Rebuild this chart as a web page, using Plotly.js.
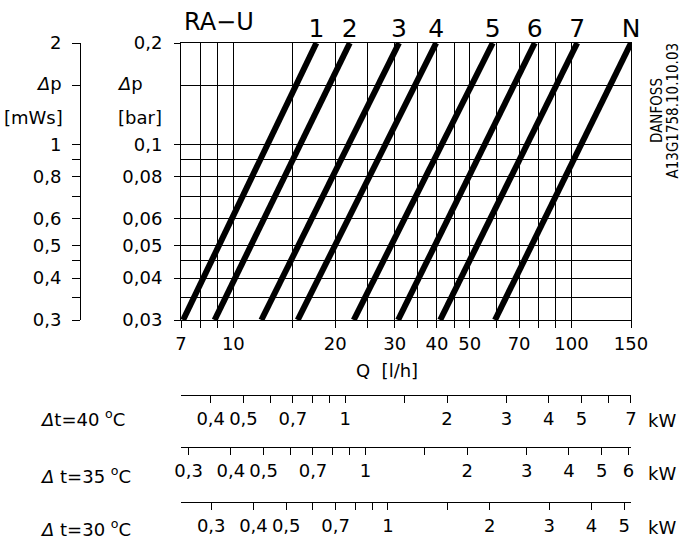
<!DOCTYPE html>
<html>
<head>
<meta charset="utf-8">
<script src="https://cdn.plot.ly/plotly-3.0.1.min.js"></script>
<style>
  html, body { margin: 0; padding: 0; background: #fff; }
  #chart { width: 681px; height: 541px; }
</style>
</head>
<body>
<div id="chart"></div>
<script>
// valve presettings and flow at 0,03 bar / 0,2 bar
const settings = ['1', '2', '3', '4', '5', '6', '7', 'N'];
const flowAtLow = [7.1, 8.8, 12.1, 15.5, 22.7, 30.7, 40.9, 59.4];
const flowAtHigh = [17.6, 22.1, 30.9, 39.8, 58.5, 77.9, 104, 150];
const dpLow = 0.03;
const dpHigh = 0.2;

// Q axis
const qMin = 7, qMax = 150;
const qTicks = [7, 8, 9, 10, 15, 20, 25, 30, 35, 40, 45, 50, 60, 70, 80, 90, 100, 150];
const qLabels = ['7', '', '', '10', '', '20', '', '30', '', '40', '', '50', '', '70', '', '', '100', '150'];

// dp axes
const barTicks = [0.03, 0.04, 0.05, 0.06, 0.08, 0.1, 0.2];
const barLabels = ['0,03', '0,04', '0,05', '0,06', '0,08', '0,1', '0,2'];
const barMinor = [0.035, 0.045, 0.07, 0.09, 0.15];
const mwsTicks = [0.3, 0.35, 0.4, 0.45, 0.5, 0.6, 0.7, 0.8, 0.9, 1, 1.5, 2];
const mwsLabels = ['0,3', '', '0,4', '', '0,5', '0,6', '', '0,8', '', '1', '', '2'];

// heat output scales (kW per l/h for each dt)
const kw40Factor = 0.04668, kw35Factor = 0.0407, kw30Factor = 0.03489;
const kw40Ticks = [0.4, 0.5, 0.6, 0.7, 0.8, 0.9, 1, 1.5, 2, 3, 4, 5, 6, 7];
const kw40Labels = ['0,4', '0,5', '', '0,7', '', '', '1', '', '2', '3', '4', '5', '', '7'];
const kw35Ticks = [0.3, 0.4, 0.5, 0.6, 0.7, 0.8, 0.9, 1, 1.5, 2, 3, 4, 5, 6];
const kw35Labels = ['0,3', '0,4', '0,5', '', '0,7', '', '', '1', '', '2', '3', '4', '5', '6'];
const kw30Ticks = [0.3, 0.4, 0.5, 0.6, 0.7, 0.8, 0.9, 1, 1.5, 2, 3, 4, 5];
const kw30Labels = ['0,3', '0,4', '0,5', '', '0,7', '', '', '1', '', '2', '3', '4', '5'];

const W = 681, H = 541;
const px = v => v / W;
const py = v => (H - v) / H;
const lg = Math.log10;

const traces = settings.map((s, i) => ({
  x: [flowAtLow[i], flowAtHigh[i]],
  y: [dpLow, dpHigh],
  mode: 'lines+text',
  text: ['', s],
  textposition: 'top center',
  textfont: { size: 25 },
  cliponaxis: false,
  line: { color: 'black', width: 6 },
  hoverinfo: 'skip'
}));

// empty traces so the extra scales get drawn
['x2', 'x3', 'x4'].forEach(ax => traces.push({ x: [], y: [], xaxis: ax, yaxis: 'y', showlegend: false }));
traces.push({ x: [], y: [], xaxis: 'x', yaxis: 'y2', showlegend: false });

function kwAxis(factor, ticks, labels, yPix) {
  return {
    type: 'log',
    range: [lg(qMin * factor), lg(qMax * factor)],
    domain: [px(181), px(631)],
    overlaying: 'x',
    anchor: 'free',
    position: py(yPix),
    side: 'bottom',
    tickmode: 'array',
    tickvals: ticks,
    ticktext: labels,
    ticks: 'outside',
    ticklen: 7,
    tickcolor: 'black',
    showline: true,
    linecolor: 'black',
    linewidth: 1,
    showgrid: false,
    tickfont: { size: 18 }
  };
}

const ann = (text, x, y, opts = {}) => Object.assign({
  text, x: px(x), y: py(y), xref: 'paper', yref: 'paper',
  showarrow: false, xanchor: 'center', yanchor: 'middle',
  font: { size: 18, color: 'black' }
}, opts);

const layout = {
  width: W,
  height: H,
  margin: { l: 0, r: 0, t: 0, b: 0 },
  paper_bgcolor: 'white',
  plot_bgcolor: 'white',
  showlegend: false,
  font: { family: 'DejaVu Sans', size: 18, color: 'black' },
  xaxis: {
    type: 'log',
    range: [lg(qMin), lg(qMax)],
    domain: [px(181), px(631)],
    anchor: 'y',
    tickmode: 'array',
    tickvals: qTicks,
    ticktext: qLabels,
    ticks: 'outside',
    ticklen: 7,
    tickcolor: 'black',
    showline: true,
    linecolor: 'black',
    mirror: true,
    showgrid: true,
    gridcolor: 'black',
    gridwidth: 1
  },
  yaxis: {
    type: 'log',
    range: [lg(dpLow), lg(dpHigh)],
    domain: [py(320), py(43)],
    anchor: 'x',
    tickmode: 'array',
    tickvals: barTicks,
    ticktext: barLabels,
    ticks: 'outside',
    ticklen: 6,
    ticklabelstandoff: 8,
    tickcolor: 'black',
    showline: true,
    linecolor: 'black',
    mirror: true,
    showgrid: true,
    gridcolor: 'black',
    gridwidth: 1,
    minor: { tickmode: 'array', tickvals: barMinor, showgrid: true, gridcolor: 'black', gridwidth: 1, ticks: '' }
  },
  yaxis2: {
    type: 'log',
    range: [lg(0.3), lg(2)],
    domain: [py(320), py(43)],
    overlaying: 'y',
    anchor: 'free',
    position: px(80),
    side: 'left',
    tickmode: 'array',
    tickvals: mwsTicks,
    ticktext: mwsLabels,
    ticks: 'outside',
    ticklen: 8,
    ticklabelstandoff: 7,
    tickcolor: 'black',
    showline: true,
    linecolor: 'black',
    showgrid: false
  },
  xaxis2: kwAxis(kw40Factor, kw40Ticks, kw40Labels, 395),
  xaxis3: kwAxis(kw35Factor, kw35Ticks, kw35Labels, 447),
  xaxis4: kwAxis(kw30Factor, kw30Ticks, kw30Labels, 502),
  annotations: [
    ann('RA\u2212U', 219, 22, { font: { size: 24, color: 'black' } }),
    ann('<i>\u0394</i>p', 64, 84, { xanchor: 'right' }),
    ann('[mWs]', 65, 118, { xanchor: 'right' }),
    ann('<i>\u0394</i>p', 145, 84, { xanchor: 'right' }),
    ann('[bar]', 164, 118, { xanchor: 'right' }),
    ann('Q  [l/h]', 387, 370),
    ann('<i>\u0394</i>t=40 <sup>o</sup>C', 38, 418, { xanchor: 'left' }),
    ann('<i>\u0394</i> t=35 <sup>o</sup>C', 38, 475, { xanchor: 'left' }),
    ann('<i>\u0394</i> t=30 <sup>o</sup>C', 38, 528, { xanchor: 'left' }),
    ann('kW', 662, 420),
    ann('kW', 662, 473),
    ann('kW', 662, 527),
    ann('DANFOSS', 657, 111, { textangle: -90, font: { family: 'DejaVu Sans Condensed', size: 15, color: 'black' } }),
    ann('A13G1758.10.10.03', 672.5, 111, { textangle: -90, font: { family: 'DejaVu Sans Condensed', size: 15, color: 'black' } })
  ]
};

Plotly.newPlot('chart', traces, layout, { staticPlot: true, displayModeBar: false });
</script>
</body>
</html>
